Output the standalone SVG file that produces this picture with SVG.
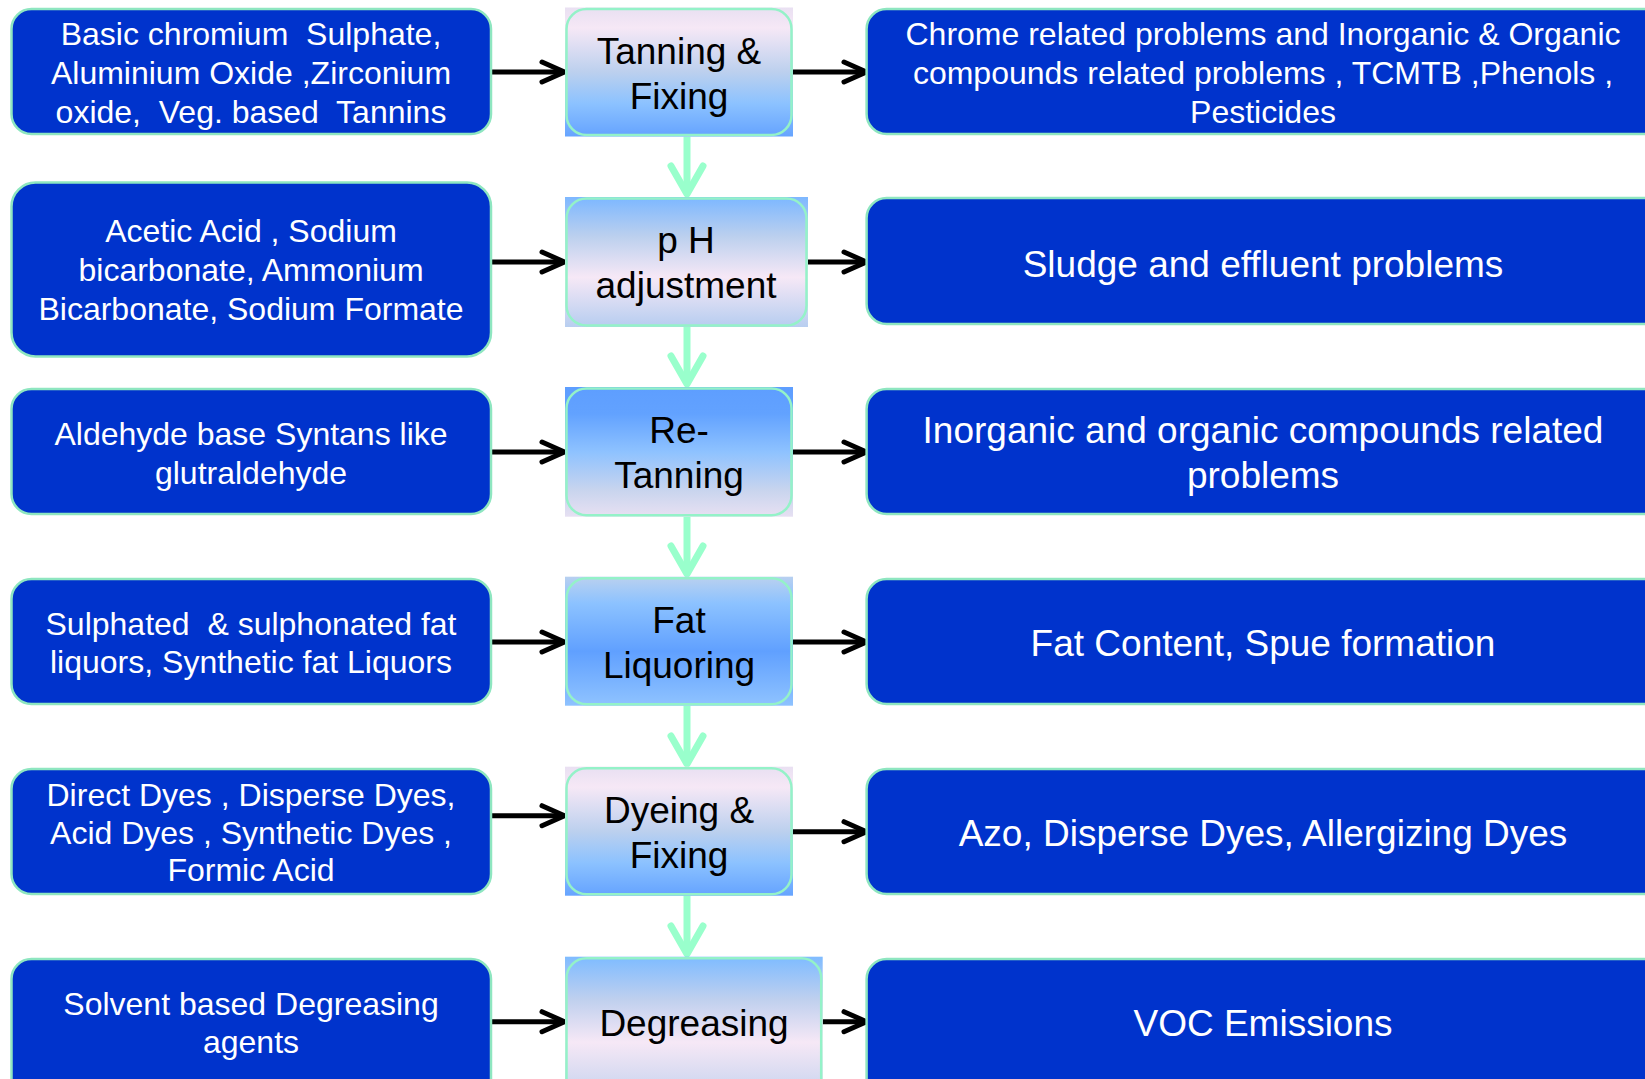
<svg xmlns="http://www.w3.org/2000/svg" width="1645" height="1079" viewBox="0 0 1645 1079">
<style>
text{white-space:pre}
.box{fill:#0033CC;stroke:#8EE6C0;stroke-width:2.5}
.inner{stroke:#94F2C8;stroke-width:2.5}
.wt{fill:#FFFFFF;font-family:"Liberation Sans",Arial,sans-serif;font-size:32px;text-anchor:middle}
.wb{fill:#FFFFFF;font-family:"Liberation Sans",Arial,sans-serif;font-size:37px;text-anchor:middle}
.bt{fill:#000000;font-family:"Liberation Sans",Arial,sans-serif;font-size:37px;text-anchor:middle}
.blk{stroke:#000;stroke-width:5;fill:none}
.grn{stroke:#99FFCC;stroke-width:7;fill:none}
</style>
<defs>
<linearGradient id="gA" x1="0" y1="0" x2="0" y2="1">
<stop offset="0" stop-color="#E9E0F2"/><stop offset="0.15" stop-color="#F6E8F6"/><stop offset="0.5" stop-color="#BCD0EE"/><stop offset="0.75" stop-color="#8CC2FF"/><stop offset="1" stop-color="#66A4FF"/>
</linearGradient>
<linearGradient id="gB" x1="0" y1="0" x2="0" y2="1">
<stop offset="0" stop-color="#7EB8FF"/><stop offset="0.3" stop-color="#BCD0EE"/><stop offset="0.62" stop-color="#F6E8F6"/><stop offset="1" stop-color="#B8CEF0"/>
</linearGradient>
<linearGradient id="gC" x1="0" y1="0" x2="0" y2="1">
<stop offset="0" stop-color="#5E9EFF"/><stop offset="0.2" stop-color="#62A2FF"/><stop offset="0.5" stop-color="#8EC2FF"/><stop offset="0.8" stop-color="#C8D4EE"/><stop offset="1" stop-color="#E6E0F2"/>
</linearGradient>
<linearGradient id="gD" x1="0" y1="0" x2="0" y2="1">
<stop offset="0" stop-color="#B8D0F0"/><stop offset="0.2" stop-color="#8CC2FF"/><stop offset="0.58" stop-color="#60A0FF"/><stop offset="1" stop-color="#8EC2FF"/>
</linearGradient>
<linearGradient id="gE" x1="0" y1="0" x2="0" y2="1">
<stop offset="0" stop-color="#80BCFF"/><stop offset="0.3" stop-color="#C0D0EE"/><stop offset="0.6" stop-color="#F6E8F6"/><stop offset="1" stop-color="#C4D2EE"/>
</linearGradient>
<marker id="ab" markerUnits="userSpaceOnUse" orient="auto" overflow="visible" refX="0" refY="0" markerWidth="30" markerHeight="30">
<path d="M-20,-10 L2.5,0 L-20,10" stroke="#000" stroke-width="5" fill="none" stroke-linejoin="round" stroke-linecap="round"/>
</marker>
<marker id="ag" markerUnits="userSpaceOnUse" orient="auto" overflow="visible" refX="0" refY="0" markerWidth="40" markerHeight="40">
<path d="M-28,-16 L0,0 L-28,16" stroke="#99FFCC" stroke-width="7" fill="none" stroke-linejoin="round" stroke-linecap="round"/>
</marker>
</defs>
<rect width="1645" height="1079" fill="#FFFFFF"/>

<g id="connectors">
<line class="grn" x1="687" y1="136.7" x2="687" y2="194" marker-end="url(#ag)"/>
<line class="grn" x1="687" y1="327" x2="687" y2="384" marker-end="url(#ag)"/>
<line class="grn" x1="687" y1="516.7" x2="687" y2="574" marker-end="url(#ag)"/>
<line class="grn" x1="687" y1="705.7" x2="687" y2="764" marker-end="url(#ag)"/>
<line class="grn" x1="687" y1="895.7" x2="687" y2="954" marker-end="url(#ag)"/>
<line class="blk" x1="491" y1="72" x2="562" y2="72" marker-end="url(#ab)"/>
<line class="blk" x1="793" y1="72" x2="864" y2="72" marker-end="url(#ab)"/>
<line class="blk" x1="491" y1="262" x2="562" y2="262" marker-end="url(#ab)"/>
<line class="blk" x1="808" y1="262" x2="864" y2="262" marker-end="url(#ab)"/>
<line class="blk" x1="491" y1="452" x2="562" y2="452" marker-end="url(#ab)"/>
<line class="blk" x1="793" y1="452" x2="864" y2="452" marker-end="url(#ab)"/>
<line class="blk" x1="491" y1="642" x2="562" y2="642" marker-end="url(#ab)"/>
<line class="blk" x1="793" y1="642" x2="864" y2="642" marker-end="url(#ab)"/>
<line class="blk" x1="491" y1="815.7" x2="562" y2="815.7" marker-end="url(#ab)"/>
<line class="blk" x1="793" y1="831.7" x2="864" y2="831.7" marker-end="url(#ab)"/>
<line class="blk" x1="491" y1="1021.7" x2="562" y2="1021.7" marker-end="url(#ab)"/>
<line class="blk" x1="822.7" y1="1021.7" x2="864" y2="1021.7" marker-end="url(#ab)"/>
</g>

<g id="in1"><rect class="box" x="11.5" y="9" width="479.5" height="125" rx="20"/>
<text class="wt" x="251" y="45">Basic chromium  Sulphate,</text>
<text class="wt" x="251" y="84">Aluminium Oxide ,Zirconium</text>
<text class="wt" x="251" y="123">oxide,  Veg. based  Tannins</text></g>
<g id="in2"><rect class="box" x="11.5" y="182.5" width="479.5" height="174" rx="24"/>
<text class="wt" x="251" y="242">Acetic Acid , Sodium</text>
<text class="wt" x="251" y="281">bicarbonate, Ammonium</text>
<text class="wt" x="251" y="320">Bicarbonate, Sodium Formate</text></g>
<g id="in3"><rect class="box" x="11.5" y="389" width="479.5" height="125" rx="20"/>
<text class="wt" x="251" y="445">Aldehyde base Syntans like</text>
<text class="wt" x="251" y="484">glutraldehyde</text></g>
<g id="in4"><rect class="box" x="11.5" y="579" width="479.5" height="125" rx="20"/>
<text class="wt" x="251" y="635">Sulphated  &amp; sulphonated fat</text>
<text class="wt" x="251" y="673">liquors, Synthetic fat Liquors</text></g>
<g id="in5"><rect class="box" x="11.5" y="769" width="479.5" height="125" rx="20"/>
<text class="wt" x="251" y="806">Direct Dyes , Disperse Dyes,</text>
<text class="wt" x="251" y="844">Acid Dyes , Synthetic Dyes ,</text>
<text class="wt" x="251" y="881">Formic Acid</text></g>
<g id="in6"><rect class="box" x="11.5" y="959" width="479.5" height="150" rx="20"/>
<text class="wt" x="251" y="1014.5">Solvent based Degreasing</text>
<text class="wt" x="251" y="1053">agents</text></g>

<g id="p1"><rect x="565" y="7.5" width="228" height="129" fill="url(#gA)"/>
<rect class="inner" x="566.5" y="9" width="225" height="126" rx="20" fill="url(#gA)"/>
<text class="bt" x="679" y="63.5">Tanning &amp;</text>
<text class="bt" x="679" y="108.5">Fixing</text></g>
<g id="p2"><rect x="565" y="197" width="243" height="130" fill="url(#gB)"/>
<rect class="inner" x="566.5" y="198.5" width="240" height="127" rx="20" fill="url(#gB)"/>
<text class="bt" x="686" y="253">p H</text>
<text class="bt" x="686" y="298">adjustment</text></g>
<g id="p3"><rect x="565" y="387" width="228" height="129.7" fill="url(#gC)"/>
<rect class="inner" x="566.5" y="388.5" width="225" height="126.7" rx="20" fill="url(#gC)"/>
<text class="bt" x="679" y="443">Re-</text>
<text class="bt" x="679" y="488">Tanning</text></g>
<g id="p4"><rect x="565" y="576.7" width="228" height="129" fill="url(#gD)"/>
<rect class="inner" x="566.5" y="578.2" width="225" height="126" rx="20" fill="url(#gD)"/>
<text class="bt" x="679" y="633">Fat</text>
<text class="bt" x="679" y="678">Liquoring</text></g>
<g id="p5"><rect x="565" y="766.7" width="228" height="129" fill="url(#gA)"/>
<rect class="inner" x="566.5" y="768.2" width="225" height="126" rx="20" fill="url(#gA)"/>
<text class="bt" x="679" y="823">Dyeing &amp;</text>
<text class="bt" x="679" y="868">Fixing</text></g>
<g id="p6"><rect x="565" y="956.7" width="257.7" height="140" fill="url(#gE)"/>
<rect class="inner" x="566.5" y="958.2" width="254.7" height="140" rx="20" fill="url(#gE)"/>
<text class="bt" x="694" y="1036">Degreasing</text></g>

<g id="out1"><rect class="box" x="866.6" y="9" width="800" height="125" rx="20"/>
<text class="wt" x="1263" y="45">Chrome related problems and Inorganic &amp; Organic</text>
<text class="wt" x="1263" y="84">compounds related problems , TCMTB ,Phenols ,</text>
<text class="wt" x="1263" y="123">Pesticides</text></g>
<g id="out2"><rect class="box" x="866.6" y="198" width="800" height="126" rx="20"/>
<text class="wb" x="1263" y="276.5">Sludge and effluent problems</text></g>
<g id="out3"><rect class="box" x="866.6" y="389" width="800" height="125" rx="20"/>
<text class="wb" x="1263" y="443">Inorganic and organic compounds related</text>
<text class="wb" x="1263" y="488">problems</text></g>
<g id="out4"><rect class="box" x="866.6" y="579" width="800" height="125" rx="20"/>
<text class="wb" x="1263" y="656">Fat Content, Spue formation</text></g>
<g id="out5"><rect class="box" x="866.6" y="769" width="800" height="125" rx="20"/>
<text class="wb" x="1263" y="846">Azo, Disperse Dyes, Allergizing Dyes</text></g>
<g id="out6"><rect class="box" x="866.6" y="959" width="800" height="150" rx="20"/>
<text class="wb" x="1263" y="1036">VOC Emissions</text></g>
</svg>
